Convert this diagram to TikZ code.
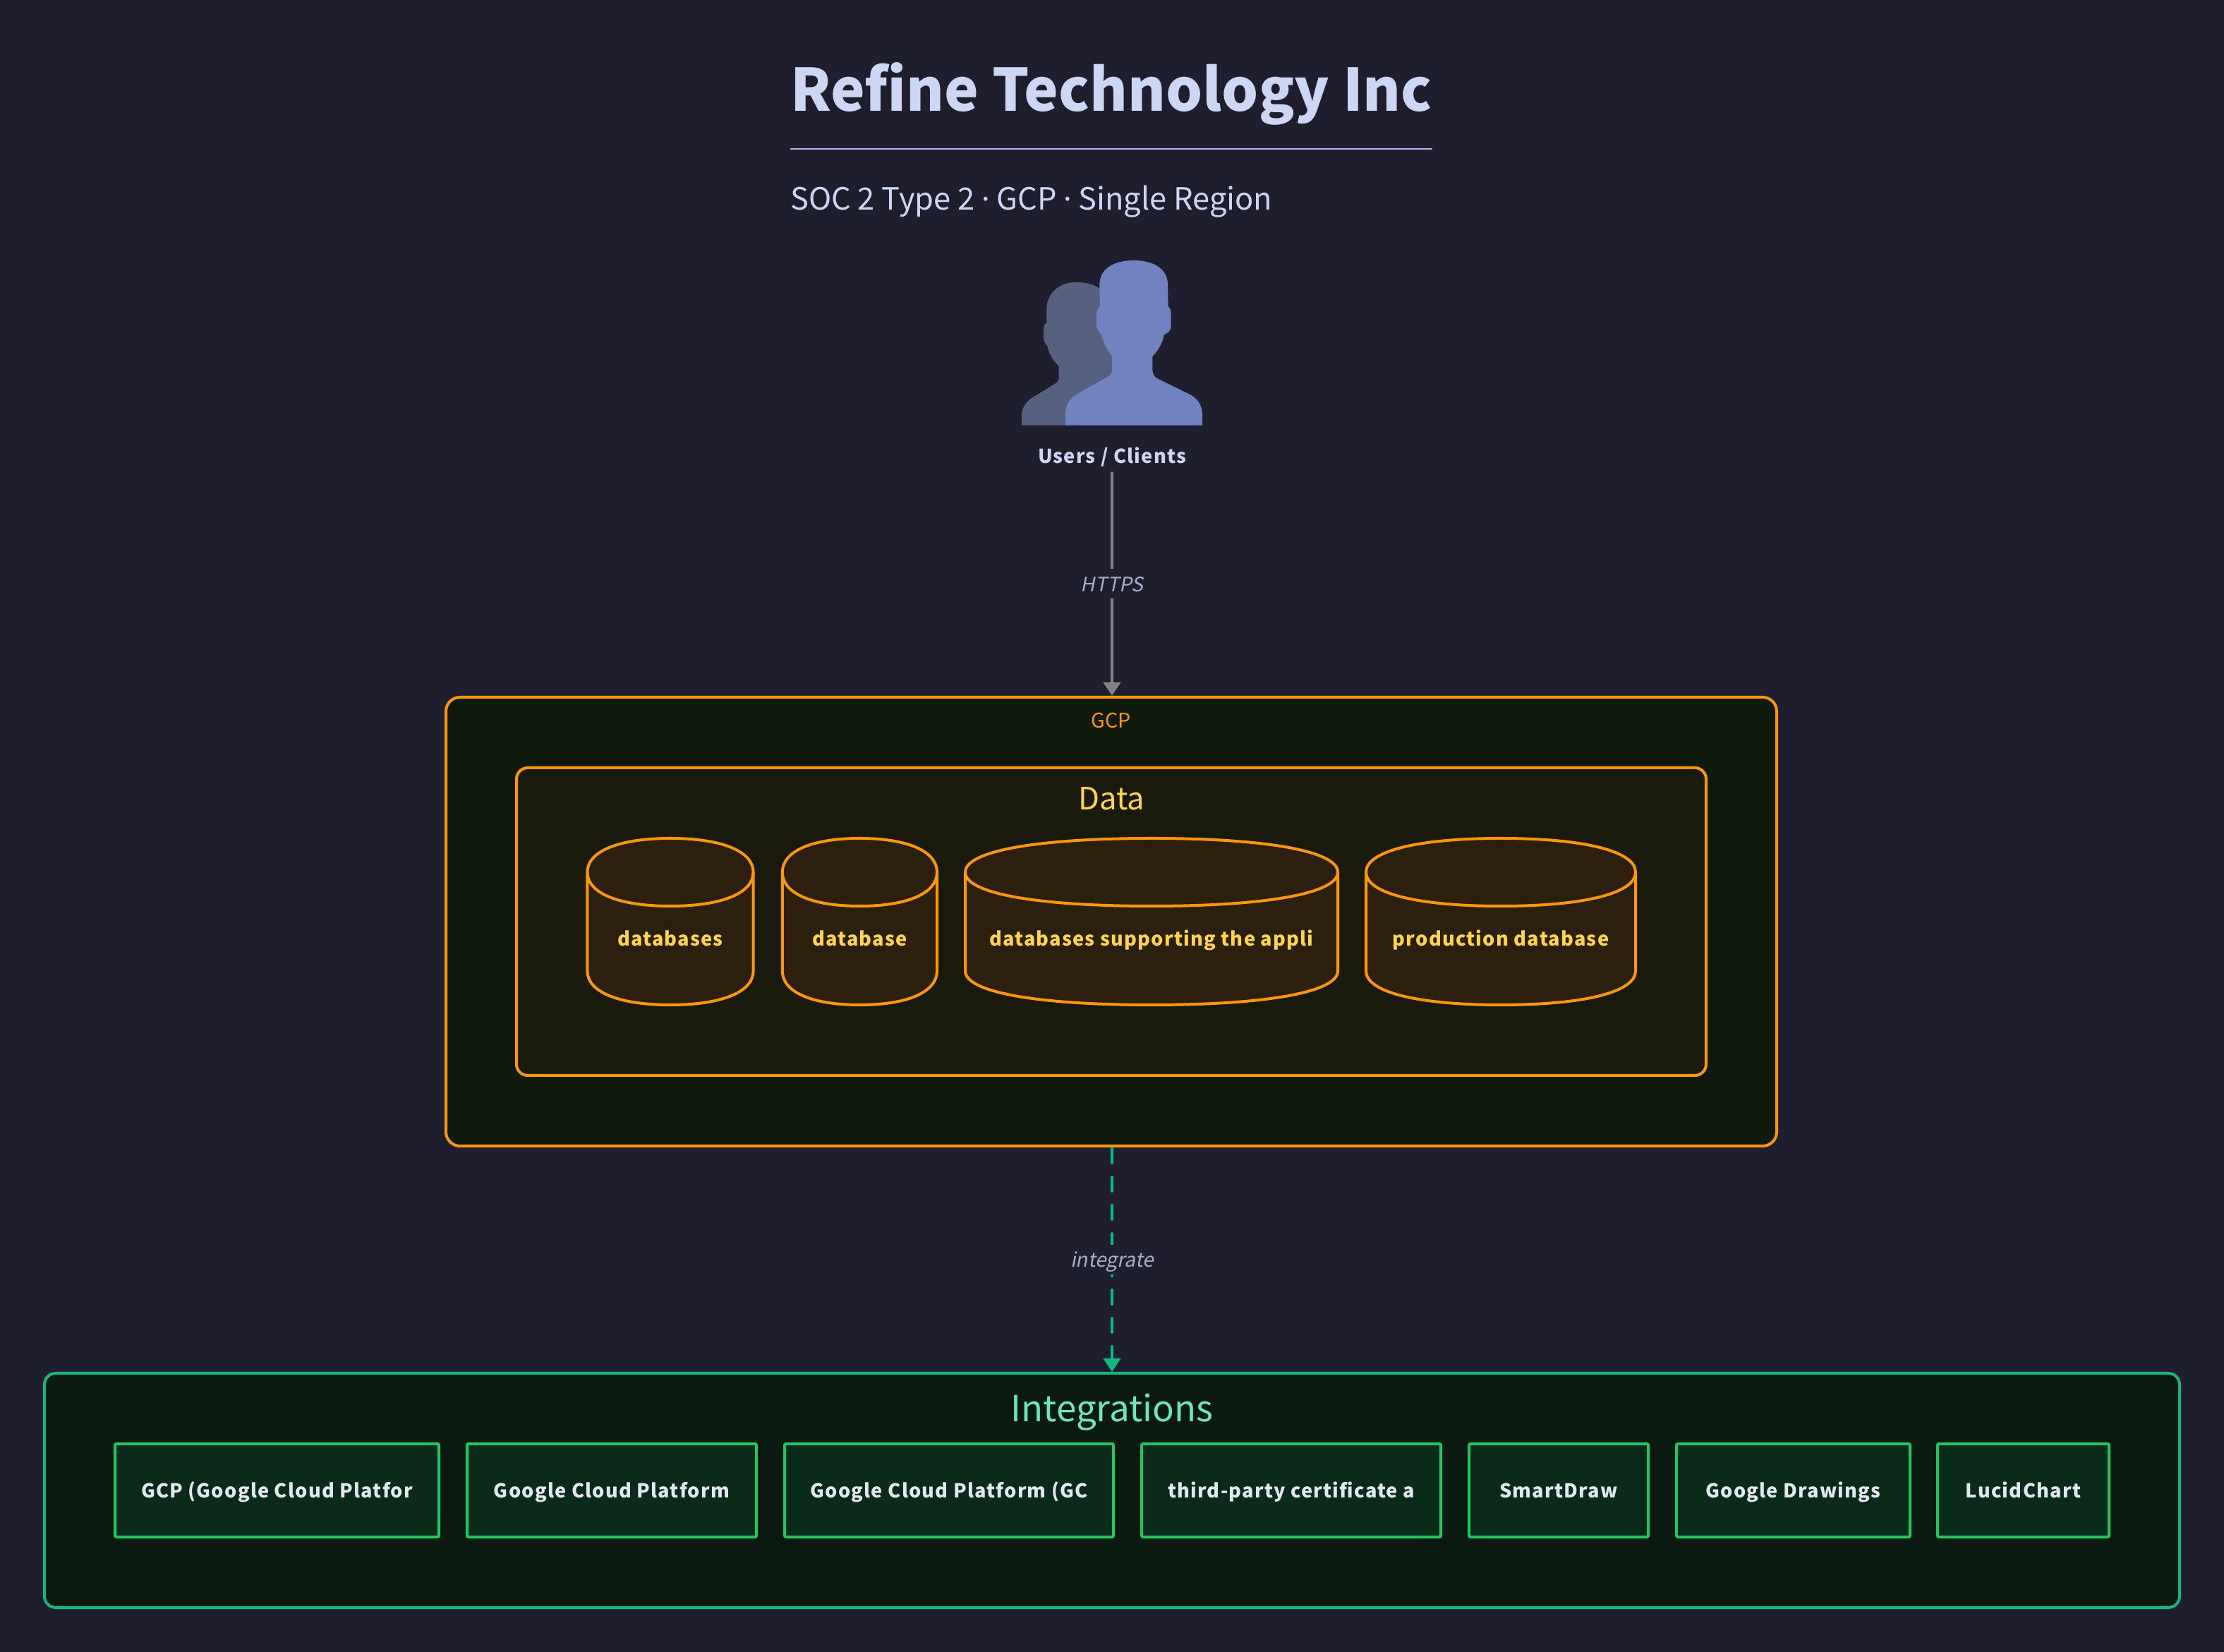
\documentclass[tikz,border=0pt]{standalone}
\usepackage{fontspec}
\setmainfont{Noto Sans CJK SC}
\newfontfamily\slantfont[FakeSlant=0.2]{Noto Sans CJK SC}
\newfontfamily\dotfont{Noto Sans}
\usetikzlibrary{arrows.meta}
\definecolor{pagebg}{HTML}{1E1E2E}
\definecolor{headtext}{HTML}{CDD6F4}
\definecolor{rulemauve}{HTML}{CBA6F7}
\definecolor{edgetext}{HTML}{A6ADC8}
\definecolor{edgegray}{HTML}{828282}
\definecolor{edgegreen}{HTML}{10B981}
\definecolor{gcporange}{HTML}{FF9800}
\definecolor{gcpfill}{HTML}{0F1A0C}
\definecolor{datafill}{HTML}{1A1A0C}
\definecolor{dbfill}{HTML}{2C1F0D}
\definecolor{dbtext}{HTML}{FFD54F}
\definecolor{intfill}{HTML}{0A1A10}
\definecolor{inttitle}{HTML}{6EE7B7}
\definecolor{boxgreen}{HTML}{22C55E}
\definecolor{boxfill}{HTML}{0A2A1A}
\definecolor{boxtext}{HTML}{E2E8F0}
\definecolor{userfront}{HTML}{7183BE}
\definecolor{userback}{HTML}{55617F}
\tikzset{
    panel/.style={draw,line width=2pt,inner sep=0pt},
    dbline/.style={draw=gcporange,fill=dbfill,line width=2pt},
    boldlabel/.style={inner sep=0pt,font=\fontsize{13.6}{15}\selectfont\bfseries\addfontfeature{LetterSpace=4.5}},
    dbnode/.style={boldlabel,anchor=base,text=dbtext},
    toolbox/.style={boldlabel,draw=boxgreen,fill=boxfill,line width=2pt,rounded corners=1pt,minimum height=66pt,text height=13pt,text depth=2.4pt,text=boxtext},
    edgelabel/.style={fill=pagebg,inner sep=0pt,minimum height=21pt,minimum width=40pt,text height=12.5pt,text depth=1.5pt,text=edgetext,font=\fontsize{14.1}{15}\selectfont\slantfont},
}
\begin{document}
\begin{tikzpicture}[x=1pt,y=1pt,>={Triangle[width=12pt,length=9.5pt]}]
        \useasboundingbox(0,0)rectangle(1576,1170);
        \fill[pagebg](-2,-2)rectangle(1578,1172);
        % heading
        \node[anchor=base west,inner sep=0pt,text=headtext,font=\fontsize{41.5}{44}\selectfont\bfseries\addfontfeature{FakeStretch=0.988}](title)at(560,1091.3){Refine Technology Inc};
        \draw[rulemauve,line width=1pt](560,1064.7)--(1015,1064.7);
        \node[anchor=base west,inner sep=0pt,text=headtext,font=\fontsize{21.7}{24}\selectfont](subtitle)at(560,1021.3){SOC 2 Type 2 {\dotfont·} GCP {\dotfont·} Single Region};
        % the two people
        \begin{scope}[shift={(700,1000)},x=0.16667pt,y=-0.16667pt]
            \fill[userback](144,788)--(144,745)..controls(144,715)and(160,690)..(190,670)--(285,612)..controls(296,605)and(302,597)..(302,585)--(302,538)..controls(278,512)and(260,485)..(252,448)..controls(242,440)and(237,430)..(237,415)--(237,375)..controls(237,365)and(242,357)..(250,352)--(250,295)..controls(250,225)and(305,180)..(375,180)..controls(420,180)and(455,190)..(480,210)--(540,500)--(540,590)--(360,700)--(360,788)--cycle;
            \fill[userfront](330,788)--(330,740)..controls(330,700)and(350,672)..(380,655)--(505,585)..controls(520,577)and(528,570)..(528,550)--(528,495)..controls(505,465)and(490,435)..(482,400)..controls(470,392)and(462,378)..(462,360)--(462,315)..controls(462,300)and(468,290)..(477,283)--(475,190)..controls(475,120)and(540,87)..(620,87)..controls(700,87)and(765,120)..(765,190)--(767,283)..controls(775,290)and(779,300)..(779,315)--(779,365)..controls(779,385)and(765,398)..(750,402)..controls(742,440)and(725,470)..(700,495)--(700,550)..controls(700,570)and(708,583)..(722,590)--(855,655)..controls(890,672)and(912,700)..(912,745)--(912,788)--cycle;
        \end{scope}
        \node[boldlabel,minimum height=20pt,text height=11pt,text depth=2pt,text=headtext](users)at(788,846){Users / Clients};
        % panels
        \node[panel,draw=gcporange,fill=gcpfill,rounded corners=10pt,minimum width=943pt,minimum height=318pt](gcp)at(787.5,517){};
        \node[anchor=base,inner sep=0pt,text=gcporange,font=\fontsize{14.3}{15}\selectfont](gcptitle)at(787.5,654){GCP};
        \node[panel,draw=gcporange,fill=datafill,rounded corners=8pt,minimum width=843pt,minimum height=218pt](data)at(787.5,517){};
        \node[anchor=base,inner sep=0pt,text=dbtext,font=\fontsize{21.8}{24}\selectfont](datatitle)at(787.5,596){Data};
        \foreach \dbname/\xl/\xr/\dblabel in{dbone/416.2/533.8/databases,dbtwo/554.4/664/database,dbthree/684/948/databases supporting the appli,dbfour/968/1159/production database}
            {
                \pgfmathsetmacro{\xm}{(\xl+\xr)/2}
                \pgfmathsetmacro{\kx}{0.62*(\xr-\xl)/2}
                \draw[dbline](\xl,552)..controls(\xl,566.9)and(\xm-\kx,576)..(\xm,576)..controls(\xm+\kx,576)and(\xr,566.9)..(\xr,552)--(\xr,482)..controls(\xr,467.1)and(\xm+\kx,458)..(\xm,458)..controls(\xm-\kx,458)and(\xl,467.1)..(\xl,482)--cycle;
                \draw[gcporange,line width=2pt](\xl,552)..controls(\xl,537.1)and(\xm-\kx,528)..(\xm,528)..controls(\xm+\kx,528)and(\xr,537.1)..(\xr,552);
                \node[dbnode](\dbname)at(\xm,499.7){\dblabel};
            }
        \node[panel,draw=edgegreen,fill=intfill,rounded corners=8pt,minimum width=1513pt,minimum height=166pt](integrations)at(788,114){};
        \node[anchor=base,inner sep=0pt,text=inttitle,font=\fontsize{25.5}{28}\selectfont](inttitle)at(788,163){Integrations};
        \foreach \boxname/\xl/\xr/\boxlabel in{gcpbox/81.5/311/GCP (Google Cloud Platfor,cloudbox/331/536/Google Cloud Platform,gcbox/556/789/Google Cloud Platform (GC,certbox/809/1021/third-party certificate a,smartbox/1041/1168/SmartDraw,drawbox/1188/1353.5/Google Drawings,lucidbox/1373/1494.5/LucidChart}
            {
                \pgfmathsetmacro{\bw}{\xr-\xl}
                \node[toolbox,minimum width=\bw pt](\boxname)at({(\xl+\xr)/2},114){\boxlabel};
            }
        % connectors
        \draw[->,edgegray,line width=2pt,line cap=round,shorten <=1pt](users.south)--(users.south|-gcp.north)node[midway,edgelabel](httpslabel){HTTPS};
        \draw[->,edgegreen,line width=2pt,line cap=round,dash pattern=on 10pt off 10pt,shorten <=1pt](integrations.north|-gcp.south)--(integrations.north)node[midway,edgelabel](integratelabel){integrate};
    \end{tikzpicture}
\end{document}
